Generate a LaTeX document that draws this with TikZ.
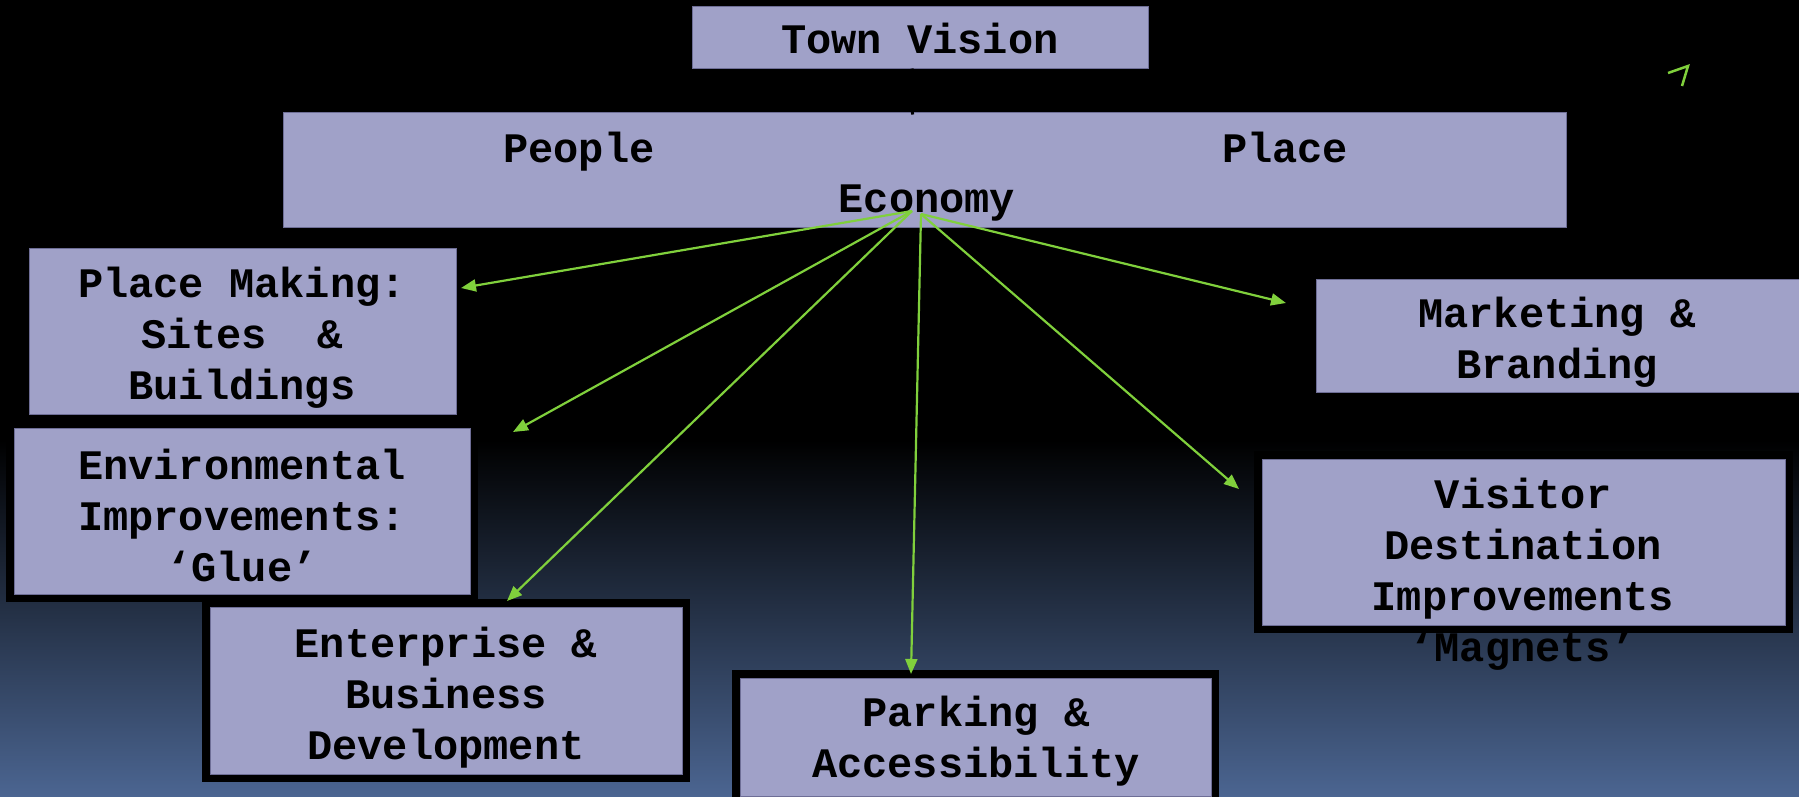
\documentclass[tikz,border=0pt]{standalone}
\usepackage{fontspec}
\setmonofont{Liberation Mono}
\usetikzlibrary{arrows.meta}
\definecolor{lav}{RGB}{160,161,200}
\definecolor{lavedge}{RGB}{110,110,150}
\definecolor{grn}{RGB}{128,208,60}
\definecolor{bgblue}{RGB}{75,101,145}
\begin{document}
\begin{tikzpicture}[x=1pt,y=-1pt,
  box/.style={rectangle, fill=lav, draw=lavedge, line width=1pt, inner sep=0pt},
  framed/.style={preaction={draw=black, line width=16pt}},
  lbl/.style={font=\ttfamily\bfseries\fontsize{42}{51}\selectfont, align=center, inner sep=0pt, text=black},
  conn/.style={draw=grn, line width=2.2pt, -{Triangle[length=15pt,width=12pt]}},
]
\useasboundingbox (0,0) rectangle (1799,796);
\fill[black] (0,0) rectangle (1799,441);
\shade[top color=black, bottom color=bgblue] (0,440) rectangle (1799,796);

% boxes
\node[box, minimum width=456pt, minimum height=62pt] (tvbox) at (920,37) {};
\node[box, minimum width=1283pt, minimum height=115pt] (bigbox) at (924.5,169.5) {};
\node[box, minimum width=427pt, minimum height=166pt] (pmbox) at (242.5,331) {};
\node[box, framed, minimum width=456pt, minimum height=166pt] (envbox) at (242,511) {};
\node[box, framed, minimum width=472pt, minimum height=167pt] (entbox) at (446,690.5) {};
\node[box, framed, minimum width=471pt, minimum height=118pt] (parkbox) at (975.5,737) {};
\node[box, minimum width=495pt, minimum height=113pt] (mkbox) at (1563.5,335.5) {};
\node[box, framed, minimum width=523pt, minimum height=166pt] (visbox) at (1523.5,542) {};

% texts
\node[lbl, anchor=base] (tvtxt) at (920,53) {Town Vision};
\node[lbl, anchor=base] (people) at (579,162) {People};
\node[lbl, anchor=base] (place) at (1285,162) {Place};
\node[lbl, anchor=base] (econ) at (927,212) {Economy};
\node[lbl] (pmtxt) at (242,338) {Place Making:\\Sites\ \ \&\\Buildings};
\node[lbl] (envtxt) at (242,515) {Environmental\\Improvements:\\‘Glue’};
\node[lbl] (enttxt) at (446,698) {Enterprise \&\\Business\\Development};
\node[lbl] (parktxt) at (976,741) {Parking \&\\Accessibility};
\node[lbl] (mktxt) at (1557,342) {Marketing \&\\Branding};
\node[lbl] (vistxt) at (1523,574) {Visitor\\Destination\\Improvements\\‘Magnets’};

% connector Town Vision -> big box (black on black)
\draw[black, line width=3pt] ([xshift=-8pt]tvbox.south) -- ([xshift=-12pt,yshift=-3pt]bigbox.north);

% green connectors
\coordinate (hubL) at (912,211);
\coordinate (hubR) at (921,214);
\coordinate (tPM) at (461,288);
\coordinate (tEnv) at (513,432);
\coordinate (tEnt) at (507,601);
\coordinate (tPark) at (911,674);
\coordinate (tVis) at (1239,489);
\coordinate (tMk) at (1286,303);
\draw[conn] (hubL) -- (tPM);
\draw[conn] (hubL) -- (tEnv);
\draw[conn] (hubL) -- (tEnt);
\draw[conn] (hubR) -- (tPark);
\draw[conn] (hubR) -- (tVis);
\draw[conn] (hubR) -- (tMk);

% stray green mark
\coordinate (m1) at (1668,73);
\coordinate (m2) at (1688,66);
\coordinate (m3) at (1682,86);
\draw[grn, line width=2.5pt] (m1) -- (m2) -- (m3);
\end{tikzpicture}
\end{document}
